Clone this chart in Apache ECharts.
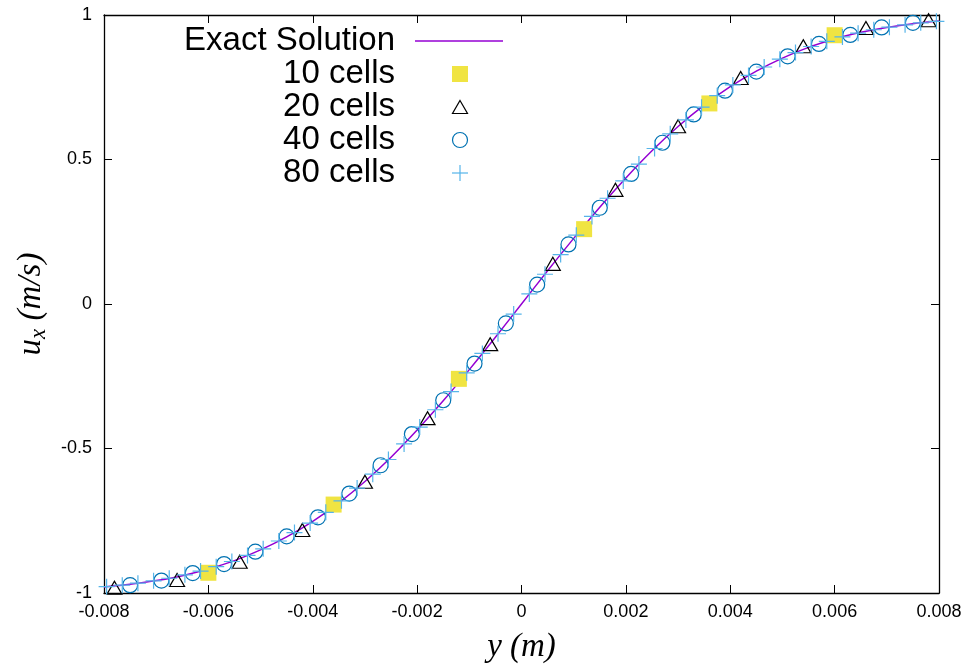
<!DOCTYPE html>
<html>
<head>
<meta charset="utf-8">
<script src="https://cdn.jsdelivr.net/npm/echarts@6/dist/echarts.min.js"></script>
<style>html,body{margin:0;padding:0;background:#fff}#c{width:967px;height:669px}</style>
</head>
<body>
<div id="c"></div>
<script>
// Exact solution
var exactX = [-0.008,-0.0075,-0.007,-0.0065,-0.006,-0.0055,-0.005,-0.0045,-0.004,-0.0035,-0.003,-0.0025,-0.002,-0.0015,-0.001,-0.0005,0,0.0005,0.001,0.0015,0.002,0.0025,0.003,0.0035,0.004,0.0045,0.005,0.0055,0.006,0.0065,0.007,0.0075,0.008];
var exactY = [-0.979,-0.970,-0.957,-0.940,-0.917,-0.888,-0.851,-0.806,-0.752,-0.688,-0.614,-0.530,-0.436,-0.335,-0.227,-0.115,0,0.115,0.227,0.335,0.436,0.530,0.614,0.688,0.752,0.806,0.851,0.888,0.917,0.940,0.957,0.970,0.979];

// 10 cells
var cells10X = [-0.006,-0.0036,-0.0012,0.0012,0.0036,0.006];
var cells10Y = [-0.930,-0.694,-0.259,0.259,0.694,0.930];

// 20 cells
var cells20X = [-0.0078,-0.0066,-0.0054,-0.0042,-0.003,-0.0018,-0.0006,0.0006,0.0018,0.003,0.0042,0.0054,0.0066,0.0078];
var cells20Y = [-0.982,-0.955,-0.892,-0.782,-0.615,-0.395,-0.139,0.139,0.395,0.615,0.782,0.892,0.955,0.982];

// 40 cells
var cells40X = [-0.0075,-0.0069,-0.0063,-0.0057,-0.0051,-0.0045,-0.0039,-0.0033,-0.0027,-0.0021,-0.0015,-0.0009,-0.0003,0.0003,0.0009,0.0015,0.0021,0.0027,0.0033,0.0039,0.0045,0.0051,0.0057,0.0063,0.0069,0.0075];
var cells40Y = [-0.973,-0.957,-0.931,-0.900,-0.857,-0.804,-0.738,-0.656,-0.558,-0.450,-0.333,-0.206,-0.067,0.067,0.206,0.333,0.450,0.558,0.656,0.738,0.804,0.857,0.900,0.931,0.957,0.973];

// 80 cells
var cells80X = [-0.00795,-0.00765,-0.00735,-0.00705,-0.00675,-0.00645,-0.00615,-0.00585,-0.00555,-0.00525,-0.00495,-0.00465,-0.00435,-0.00405,-0.00375,-0.00345,-0.00315,-0.00285,-0.00255,-0.00225,-0.00195,-0.00165,-0.00135,-0.00105,-0.00075,-0.00045,-0.00015,0.00015,0.00045,0.00075,0.00105,0.00135,0.00165,0.00195,0.00225,0.00255,0.00285,0.00315,0.00345,0.00375,0.00405,0.00435,0.00465,0.00495,0.00525,0.00555,0.00585,0.00615,0.00645,0.00675,0.00705,0.00735,0.00765,0.00795];
var cells80Y = [-0.978,-0.973,-0.966,-0.958,-0.949,-0.937,-0.924,-0.909,-0.891,-0.870,-0.847,-0.820,-0.791,-0.758,-0.721,-0.681,-0.637,-0.589,-0.538,-0.484,-0.426,-0.366,-0.303,-0.238,-0.171,-0.103,-0.035,0.035,0.103,0.171,0.238,0.303,0.366,0.426,0.484,0.538,0.589,0.637,0.681,0.721,0.758,0.791,0.820,0.847,0.870,0.891,0.909,0.924,0.937,0.949,0.958,0.966,0.973,0.978];

var seriesNames = ['Exact Solution','10 cells','20 cells','40 cells','80 cells'];
var xTicks = {min:-0.008, max:0.008, interval:0.002};
var yTicks = {min:-1, max:1, interval:0.5};

function pairs(xs, ys){ return xs.map(function(x,i){ return [x, ys[i]]; }); }

var chart = echarts.init(document.getElementById('c'), null, {renderer:'canvas'});
var labelFont = {color:'#000', fontSize:18, fontFamily:'Liberation Sans'};
var axisLine = {show:true, onZero:false, lineStyle:{color:'#000', width:1.3}};
var tick = {show:true, inside:true, length:8, lineStyle:{color:'#000', width:1}};

var plusPath = 'path://M0,8L16,8M8,0L8,16';
var legendX = 395, legendY0 = 41, legendDy = 33, sampleX = 460;
var legendFont = 33;

var option = {
  backgroundColor:'#fff',
  animation:false,
  grid:{left:104, right:28, top:15, bottom:66, containLabel:false},
  xAxis:[{
    type:'value', min:xTicks.min, max:xTicks.max, interval:xTicks.interval, position:'bottom',
    axisLine:axisLine, axisTick:tick, splitLine:{show:false},
    axisLabel:Object.assign({margin:10}, labelFont),
    name:'y (m)', nameLocation:'middle', nameGap:38,
    nameTextStyle:{fontFamily:'Liberation Serif', fontStyle:'italic', fontSize:33, color:'#000'}
  },{
    type:'value', min:xTicks.min, max:xTicks.max, interval:xTicks.interval, position:'top',
    axisLine:axisLine, axisTick:tick, splitLine:{show:false}, axisLabel:{show:false}
  }],
  yAxis:[{
    type:'value', min:yTicks.min, max:yTicks.max, interval:yTicks.interval, position:'left',
    axisLine:axisLine, axisTick:tick, splitLine:{show:false},
    axisLabel:Object.assign({margin:12}, labelFont),
    name:'{a|u}{s|x}{a| (m/s)}', nameLocation:'middle', nameGap:48, nameRotate:90,
    nameTextStyle:{
      rich:{
        a:{fontFamily:'Liberation Serif', fontStyle:'italic', fontSize:33, color:'#000'},
        s:{fontFamily:'Liberation Serif', fontStyle:'italic', fontSize:23, color:'#000', padding:[15,0,0,0]}
      }
    }
  },{
    type:'value', min:yTicks.min, max:yTicks.max, interval:yTicks.interval, position:'right',
    axisLine:axisLine, axisTick:tick, splitLine:{show:false}, axisLabel:{show:false}
  }],
  series:[
    {name:seriesNames[0], type:'line', data:pairs(exactX, exactY), showSymbol:false, smooth:0.3,
     lineStyle:{color:'#9400D3', width:1.5}, itemStyle:{color:'#9400D3'}, z:2},
    {name:seriesNames[1], type:'scatter', data:pairs(cells10X, cells10Y), symbol:'rect', symbolSize:16,
     itemStyle:{color:'#F0E442', opacity:1}, z:3},
    {name:seriesNames[2], type:'scatter', data:pairs(cells20X, cells20Y), symbol:'triangle', symbolSize:[15,13],
     itemStyle:{color:'rgba(0,0,0,0)', borderColor:'#000', borderWidth:1.2, opacity:1}, z:4},
    {name:seriesNames[3], type:'scatter', data:pairs(cells40X, cells40Y), symbol:'circle', symbolSize:15,
     itemStyle:{color:'rgba(0,0,0,0)', borderColor:'#0072B2', borderWidth:1.2, opacity:1}, z:5},
    {name:seriesNames[4], type:'scatter', data:pairs(cells80X, cells80Y), symbol:plusPath, symbolSize:16,
     itemStyle:{color:'rgba(0,0,0,0)', borderColor:'#56B4E9', borderWidth:1.2, opacity:1}, z:6}
  ],
  graphic:[
    {type:'text', x:legendX, y:legendY0, style:{text:seriesNames[0], align:'right', verticalAlign:'middle', fontFamily:'Liberation Sans', fontSize:legendFont, fill:'#000'}},
    {type:'text', x:legendX, y:legendY0+legendDy, style:{text:seriesNames[1], align:'right', verticalAlign:'middle', fontFamily:'Liberation Sans', fontSize:legendFont, fill:'#000'}},
    {type:'text', x:legendX, y:legendY0+2*legendDy, style:{text:seriesNames[2], align:'right', verticalAlign:'middle', fontFamily:'Liberation Sans', fontSize:legendFont, fill:'#000'}},
    {type:'text', x:legendX, y:legendY0+3*legendDy, style:{text:seriesNames[3], align:'right', verticalAlign:'middle', fontFamily:'Liberation Sans', fontSize:legendFont, fill:'#000'}},
    {type:'text', x:legendX, y:legendY0+4*legendDy, style:{text:seriesNames[4], align:'right', verticalAlign:'middle', fontFamily:'Liberation Sans', fontSize:legendFont, fill:'#000'}},
    {type:'line', shape:{x1:415, y1:legendY0, x2:503, y2:legendY0}, style:{stroke:'#9400D3', lineWidth:1.5}},
    {type:'rect', shape:{x:sampleX-8, y:legendY0+legendDy-8, width:16, height:16}, style:{fill:'#F0E442'}},
    {type:'polygon', shape:{points:[[sampleX, legendY0+2*legendDy-6.5],[sampleX+7.5, legendY0+2*legendDy+6.5],[sampleX-7.5, legendY0+2*legendDy+6.5]]}, style:{fill:'none', stroke:'#000', lineWidth:1.2}},
    {type:'circle', shape:{cx:sampleX, cy:legendY0+3*legendDy, r:7.5}, style:{fill:'none', stroke:'#0072B2', lineWidth:1.2}},
    {type:'line', shape:{x1:sampleX-8, y1:legendY0+4*legendDy, x2:sampleX+8, y2:legendY0+4*legendDy}, style:{stroke:'#56B4E9', lineWidth:1.2}},
    {type:'line', shape:{x1:sampleX, y1:legendY0+4*legendDy-8, x2:sampleX, y2:legendY0+4*legendDy+8}, style:{stroke:'#56B4E9', lineWidth:1.2}}
  ]
};
chart.setOption(option);
</script>
</body>
</html>
